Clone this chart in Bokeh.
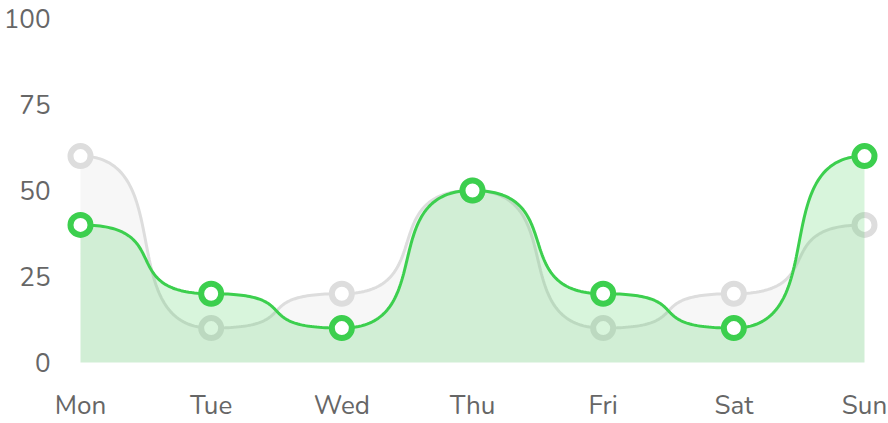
import numpy as np
from bokeh.plotting import figure
from bokeh.models import Range1d, FixedTicker
from bokeh.embed import file_html
from bokeh.resources import INLINE

days = ["Mon", "Tue", "Wed", "Thu", "Fri", "Sat", "Sun"]
gray_vals = [60, 10, 20, 50, 10, 20, 40]
green_vals = [40, 20, 10, 50, 20, 10, 60]
y_ticks = [0, 25, 50, 75, 100]

GREEN = "#3ccf4e"
GRAY = "#dddddd"
FONT = "Nunito, Lato"


def smooth(xs, ys, k=0.75, n=80):
    px, py = [xs[0]], [ys[0]]
    t = np.linspace(0, 1, n)[1:]
    for i in range(len(xs) - 1):
        x0, y0, x1, y1 = xs[i], ys[i], xs[i + 1], ys[i + 1]
        d = (x1 - x0) * k
        cx = [x0, x0 + d, x1 - d, x1]
        cy = [y0, y0, y1, y1]
        b = [(1 - t) ** 3, 3 * (1 - t) ** 2 * t, 3 * (1 - t) * t ** 2, t ** 3]
        px.extend(sum(b[j] * cx[j] for j in range(4)))
        py.extend(sum(b[j] * cy[j] for j in range(4)))
    return np.array(px), np.array(py)


xs = list(range(len(days)))

p = figure(frame_width=824, frame_height=370, output_backend="svg", toolbar_location=None,
           x_range=Range1d(-0.153, 6.153), y_range=Range1d(-3.78, 103.78),
           min_border_left=60, min_border_right=4, min_border_top=5, min_border_bottom=48)
p.outline_line_color = None
p.grid.visible = False
p.background_fill_color = "white"
p.border_fill_color = "white"

gx, gy = smooth(xs, gray_vals)
p.varea(x=gx, y1=0, y2=gy, fill_color="#f7f7f7")
p.line(gx, gy, line_color=GRAY, line_width=3)
p.scatter(xs, gray_vals, size=20, fill_color="white", line_color=GRAY, line_width=6)

hx, hy = smooth(xs, green_vals)
p.varea(x=hx, y1=0, y2=hy, fill_color=GREEN, fill_alpha=0.2)
p.line(hx, hy, line_color=GREEN, line_width=3)
p.scatter(xs, green_vals, size=20, fill_color="white", line_color=GREEN, line_width=6)

for ax in (p.xaxis[0], p.yaxis[0]):
    ax.axis_line_color = None
    ax.major_tick_line_color = None
    ax.minor_tick_line_color = None
    ax.major_tick_out = 0
    ax.major_tick_in = 0
    ax.major_label_text_font = FONT
    ax.major_label_text_font_size = "26px"
    ax.major_label_text_color = "#666666"

p.xaxis.ticker = FixedTicker(ticks=xs)
p.xaxis.major_label_overrides = {i: d for i, d in enumerate(days)}
p.xaxis.major_label_standoff = 12
p.yaxis.ticker = FixedTicker(ticks=y_ticks)
p.yaxis.major_label_standoff = 10

open("out.html", "w").write(file_html(p, INLINE))
